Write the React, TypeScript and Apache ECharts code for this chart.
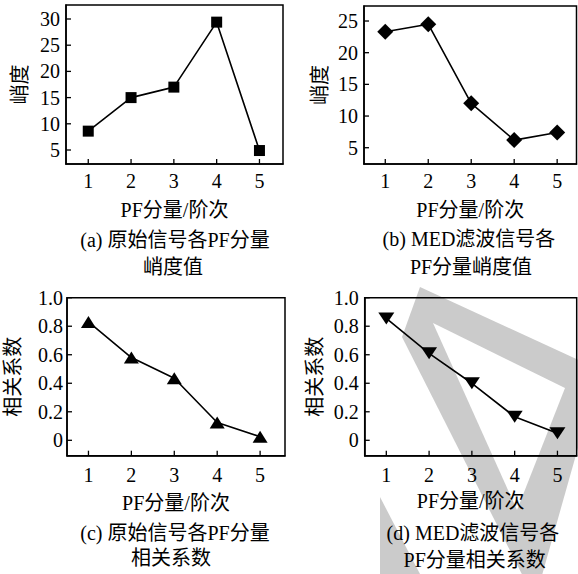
import React, { useEffect, useRef } from "react";
import * as echarts from "echarts";

// ---- data ----
const components = [1, 2, 3, 4, 5];
const kurtosisOriginal = [8.6, 15.0, 17.0, 29.4, 4.9];
const kurtosisMed = [23.3, 24.5, 12.0, 6.2, 7.4];
const corrOriginal = [0.83, 0.58, 0.435, 0.125, 0.025];
const corrMed = [0.855, 0.61, 0.4, 0.165, 0.05];
const kurtTicksA = [5, 10, 15, 20, 25, 30];
const kurtTicksB = [5, 10, 15, 20, 25];
const corrTicks = [0, 0.2, 0.4, 0.6, 0.8, 1.0];

const xName = "PF分量/阶次";
const yNameKurt = "峭度";
const yNameCorr = "相关系数";
const captions = [
  ["(a) 原始信号各PF分量", "峭度值"],
  ["(b) MED滤波信号各", "PF分量峭度值"],
  ["(c) 原始信号各PF分量", "相关系数"],
  ["(d) MED滤波信号各", "PF分量相关系数"],
];

const FONT = "'Liberation Serif','Times New Roman','Noto Sans CJK SC',serif";
const FS = 20;
const TICK_LEN = 5;

function pairs(vals: number[]) {
  return components.map((x, i) => [x, vals[i]]);
}

function xAxis(gridIndex: number, min: number, max: number, margin: number, nameGap: number) {
  return {
    type: "value",
    gridIndex,
    min,
    max,
    name: xName,
    nameLocation: "middle",
    nameGap,
    nameTextStyle: { fontSize: FS, color: "#000", fontFamily: FONT },
    axisLine: { show: true, onZero: false, lineStyle: { color: "#000", width: 1.5 } },
    axisTick: { show: false },
    axisLabel: { customValues: components, margin, fontSize: FS, color: "#000", fontFamily: FONT },
    splitLine: { show: false },
  };
}

function yAxis(gridIndex: number, min: number, max: number, ticks: number[], name: string, nameGap: number, margin: number, dec: boolean) {
  return {
    type: "value",
    gridIndex,
    min,
    max,
    name,
    nameLocation: "middle",
    nameGap,
    nameTextStyle: { fontSize: FS, color: "#000", fontFamily: FONT },
    axisLine: { show: true, onZero: false, lineStyle: { color: "#000", width: 1.5 } },
    axisTick: { show: false },
    axisLabel: {
      customValues: ticks,
      margin,
      fontSize: FS,
      color: "#000",
      fontFamily: FONT,
      formatter: (v: number) => (dec ? (Math.abs(v) < 1e-9 ? "0" : v.toFixed(1)) : String(Math.round(v))),
    },
    splitLine: { show: false },
  };
}

function lineSeries(idx: number, vals: number[], symbol: string, symbolSize: any, rotate = 0) {
  return {
    type: "line",
    xAxisIndex: idx,
    yAxisIndex: idx,
    data: pairs(vals),
    symbol,
    symbolSize,
    symbolRotate: rotate,
    showSymbol: true,
    lineStyle: { color: "#000", width: 1.6 },
    itemStyle: { color: "#000", borderWidth: 0 },
    z: 5,
  };
}

// inward tick marks drawn through the axis scales
function tickSeries(idx: number, xTicks: number[], yTicks: number[], xMin: number, yMin: number) {
  const data = [
    ...xTicks.map((v) => [v, yMin, 0]),
    ...yTicks.map((v) => [xMin, v, 1]),
  ];
  return {
    type: "custom",
    xAxisIndex: idx,
    yAxisIndex: idx,
    silent: true,
    clip: false,
    z: 4,
    data,
    renderItem: (_p: any, api: any) => {
      const pt = api.coord([api.value(0), api.value(1)]);
      const isY = api.value(2) === 1;
      return {
        type: "line",
        shape: isY
          ? { x1: pt[0], y1: pt[1], x2: pt[0] + TICK_LEN, y2: pt[1] }
          : { x1: pt[0], y1: pt[1], x2: pt[0], y2: pt[1] - TICK_LEN },
        style: { stroke: "#000", lineWidth: 1.3 },
      };
    },
  };
}

export default function App() {
  const ref = useRef<HTMLDivElement>(null);
  useEffect(() => {
    if (!ref.current) return;
    const chart = echarts.init(ref.current, null, { renderer: "svg" });
    const gridBase = { show: true, borderColor: "#000", borderWidth: 1.5, backgroundColor: "transparent", containLabel: false };
    const wm = "#cbcbcb";
    const capStyle = (text: string, x: number, y: number) => ({
      type: "text",
      z: 10,
      style: { text, x, y, textAlign: "center", textVerticalAlign: "middle", fontSize: FS, fontFamily: FONT, fill: "#000" },
    });
    const ranges = [
      { x: [0.48, 5.55], y: [2.33, 32.67] },
      { x: [0.505, 5.45], y: [2.43, 27.37] },
      { x: [0.5, 5.58], y: [-0.108, 1.0] },
      { x: [0.495, 5.45], y: [-0.108, 1.0] },
    ];
    chart.setOption({
      animation: false,
      backgroundColor: "#fff",
      grid: [
        { ...gridBase, left: 66, top: 5, width: 217, height: 159 },
        { ...gridBase, left: 364, top: 6, width: 212.5, height: 158 },
        { ...gridBase, left: 67, top: 297.7, width: 218, height: 158 },
        { ...gridBase, left: 364.7, top: 297.7, width: 212, height: 158 },
      ],
      xAxis: [
        xAxis(0, ranges[0].x[0], ranges[0].x[1], 7, 35.5),
        xAxis(1, ranges[1].x[0], ranges[1].x[1], 7, 36),
        xAxis(2, ranges[2].x[0], ranges[2].x[1], 9, 37),
        xAxis(3, ranges[3].x[0], ranges[3].x[1], 9, 35.5),
      ],
      yAxis: [
        yAxis(0, ranges[0].y[0], ranges[0].y[1], kurtTicksA, yNameKurt, 36, 6, false),
        yAxis(1, ranges[1].y[0], ranges[1].y[1], kurtTicksB, yNameKurt, 34.5, 6, false),
        yAxis(2, ranges[2].y[0], ranges[2].y[1], corrTicks, yNameCorr, 44, 4, true),
        yAxis(3, ranges[3].y[0], ranges[3].y[1], corrTicks, yNameCorr, 40, 6, true),
      ],
      series: [
        lineSeries(0, kurtosisOriginal, "rect", 11),
        lineSeries(1, kurtosisMed, "diamond", 16),
        lineSeries(2, corrOriginal, "triangle", [15, 12]),
        lineSeries(3, corrMed, "triangle", [16, 12], 180),
        tickSeries(0, components, kurtTicksA, ranges[0].x[0], ranges[0].y[0]),
        tickSeries(1, components, kurtTicksB, ranges[1].x[0], ranges[1].y[0]),
        tickSeries(2, components, corrTicks, ranges[2].x[0], ranges[2].y[0]),
        tickSeries(3, components, corrTicks, ranges[3].x[0], ranges[3].y[0]),
      ],
      graphic: [
        {
          type: "polygon",
          z: -10,
          shape: { points: [[420, 287], [600, 370], [535, 600], [402, 337]] },
          style: { fill: wm },
        },
        {
          type: "polygon",
          z: -9,
          shape: { points: [[433, 323], [565, 388], [517, 510]] },
          style: { fill: "#fff" },
        },
        {
          type: "polygon",
          z: -10,
          shape: { points: [[380, 497], [420, 574], [380, 574]] },
          style: { fill: wm },
        },
        capStyle(captions[0][0], 175, 240),
        capStyle(captions[0][1], 173, 267),
        capStyle(captions[1][0], 469, 238.5),
        capStyle(captions[1][1], 471, 266.7),
        capStyle(captions[2][0], 175, 533),
        capStyle(captions[2][1], 171, 558),
        capStyle(captions[3][0], 473, 533),
        capStyle(captions[3][1], 474.7, 560),
      ],
    });
    return () => chart.dispose();
  }, []);
  return <div ref={ref} style={{ position: "fixed", left: 0, top: 0, width: 578, height: 574 }} />;
}
